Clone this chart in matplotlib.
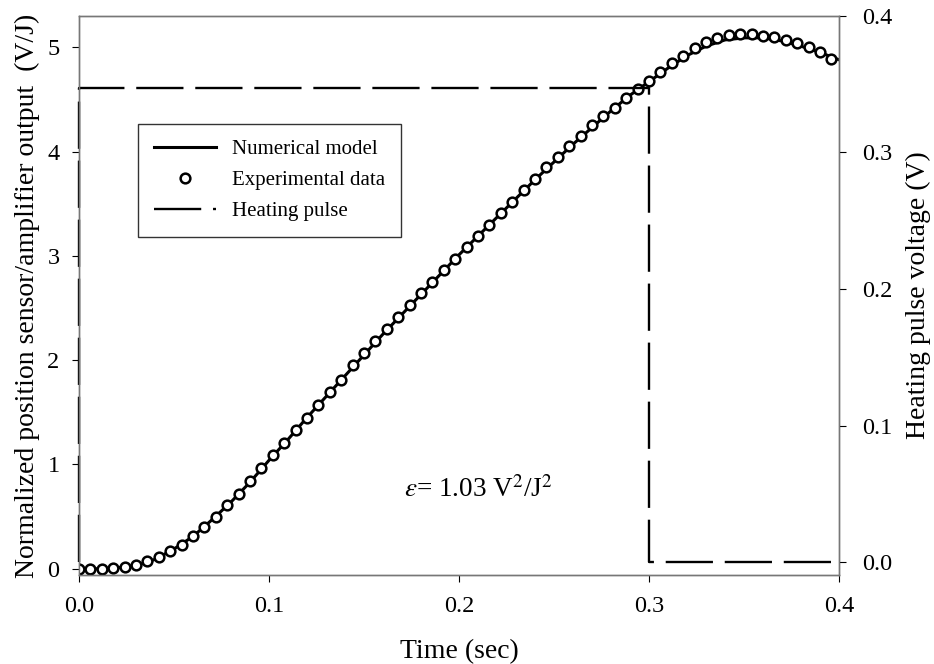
import numpy as np
import matplotlib
matplotlib.use("Agg")
import matplotlib.pyplot as plt

plt.rcParams['font.family'] = ['Liberation Serif', 'DejaVu Serif']
plt.rcParams['mathtext.fontset'] = 'stix'

# Experimental data (every 0.006 s)
exp_t = [0.006 * k for k in range(67)]
exp_y = [0.00, 0.00, 0.00, 0.01, 0.02, 0.04, 0.07, 0.11, 0.17, 0.23,
         0.31, 0.40, 0.50, 0.61, 0.72, 0.84, 0.97, 1.09, 1.21, 1.33,
         1.45, 1.57, 1.69, 1.81, 1.95, 2.07, 2.18, 2.30, 2.41, 2.53,
         2.64, 2.75, 2.86, 2.97, 3.08, 3.19, 3.30, 3.41, 3.52, 3.63,
         3.74, 3.85, 3.95, 4.05, 4.15, 4.25, 4.34, 4.42, 4.51, 4.60,
         4.68, 4.76, 4.85, 4.92, 4.99, 5.05, 5.09, 5.12, 5.13, 5.13,
         5.11, 5.10, 5.07, 5.04, 5.00, 4.95, 4.89]

# Numerical model (every 0.01 s)
mod_t = [0.01 * k for k in range(41)]
mod_y = [0.00, 0.00, 0.01, 0.03, 0.09, 0.19, 0.31, 0.47, 0.64, 0.83,
         1.04, 1.24, 1.45, 1.65, 1.85, 2.05, 2.25, 2.44, 2.63, 2.82,
         3.01, 3.19, 3.37, 3.55, 3.73, 3.90, 4.07, 4.23, 4.39, 4.54,
         4.67, 4.80, 4.92, 5.01, 5.07, 5.09, 5.09, 5.06, 5.01, 4.95,
         4.88]

# Heating pulse (right axis)
pulse_t = [0.0, 0.0, 0.3, 0.3, 0.4]
pulse_v = [0.0, 0.347, 0.347, 0.0, 0.0]

x_ticks = [0.0, 0.1, 0.2, 0.3, 0.4]
left_ticks = [0, 1, 2, 3, 4, 5]
right_ticks = [0.0, 0.1, 0.2, 0.3, 0.4]

fig = plt.figure(figsize=(9.34, 6.64), dpi=100)
ax = fig.add_axes([0.0846, 0.134, 0.8137, 0.842])
ax2 = ax.twinx()

tick_fs = 17.5
label_fs = 20
leg_fs = 15

l1, = ax.plot(mod_t, mod_y, color='black', lw=2.2, zorder=2, label='Numerical model')
l2, = ax.plot(exp_t, exp_y, ls='none', marker='o', ms=7.0, mfc='white', mec='black',
              mew=1.8, zorder=3, label='Experimental data')
l3, = ax2.plot(pulse_t, pulse_v, color='black', lw=1.7, dashes=(20, 5), clip_on=False,
               label='Heating pulse')

ax.set_xlim(0, 0.4)
ax.set_ylim(-0.06, 5.3)
ax2.set_ylim(-0.0095, 0.4)

ax.set_xticks(x_ticks)
ax.set_xticklabels([f'{v:.1f}' for v in x_ticks])
ax.set_yticks(left_ticks)
ax.set_yticklabels([str(v) for v in left_ticks])
ax2.set_yticks(right_ticks)
ax2.set_yticklabels([f'{v:.1f}' for v in right_ticks])

for a in (ax, ax2):
    a.tick_params(direction='out', length=5, width=0.8, labelsize=tick_fs, colors='black')
    for s in a.spines.values():
        s.set_color('#777777')
        s.set_linewidth(1.0)
ax.tick_params(axis='x', pad=10)
ax.tick_params(axis='y', pad=9)
ax2.tick_params(axis='y', pad=12)

ax.set_xlabel('Time (sec)', fontsize=label_fs, labelpad=16)
ax.set_ylabel('Normalized position sensor/amplifier output  (V/J)', fontsize=label_fs, labelpad=5)
ax2.set_ylabel('Heating pulse voltage (V)', fontsize=label_fs, labelpad=9)

ax.text(0.171, 0.76, r'$\varepsilon$= 1.03 V$^2$/J$^2$', fontsize=19.5, ha='left', va='center')

leg = ax2.legend([l1, l2, l3], ['Numerical model', 'Experimental data', 'Heating pulse'],
                 loc='upper left', bbox_to_anchor=(0.078, 0.807), borderaxespad=0,
                 fontsize=leg_fs, frameon=True, fancybox=False, handlelength=3.0,
                 labelspacing=0.55, borderpad=0.75, handletextpad=0.75, numpoints=1)
leg.get_frame().set_edgecolor('black')
leg.get_frame().set_linewidth(1.0)

fig.savefig('out.png', dpi=100)
